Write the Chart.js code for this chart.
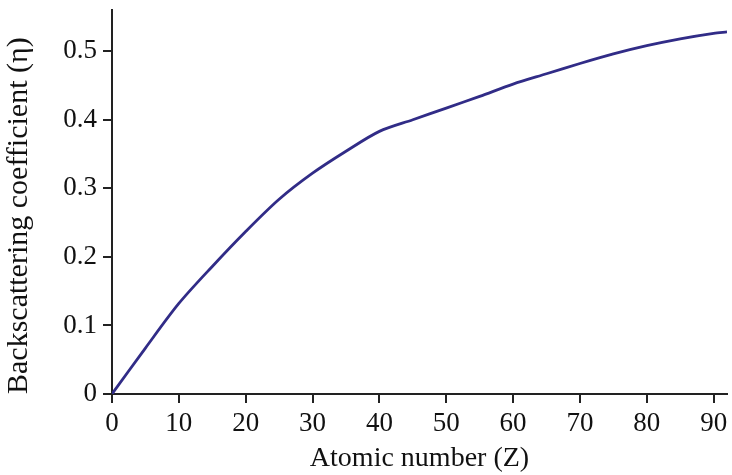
<!DOCTYPE html>
<html>
<head>
<meta charset="utf-8">
<script src="https://cdn.jsdelivr.net/npm/chart.js@4.4.1/dist/chart.umd.min.js"></script>
<style>
  body { margin: 0; background: #fff; }
  #wrap { width: 732px; height: 475px; }
</style>
</head>
<body>
<div id="wrap"><canvas id="bs-chart"></canvas></div>
<script>
// atomic number Z and backscattering coefficient
const atomicNumbers = [0, 5, 10, 15, 20, 25, 30, 35, 40, 45, 50, 55, 60, 65, 70, 75, 80, 85, 90, 92];
const backscatter = [0, 0.067, 0.132, 0.186, 0.237, 0.284, 0.322, 0.354, 0.383, 0.400, 0.417, 0.434, 0.452, 0.467, 0.482, 0.496, 0.508, 0.518, 0.526, 0.528];
const xTicks = [0, 10, 20, 30, 40, 50, 60, 70, 80, 90];
const yTicks = [0, 0.1, 0.2, 0.3, 0.4, 0.5];

const serif = "'Liberation Serif', 'Times New Roman', serif";
const ink = '#111';
const axisColor = '#222';

const points = atomicNumbers.map((z, i) => ({ x: z, y: backscatter[i] }));

const ctx = document.getElementById('bs-chart').getContext('2d');
new Chart(ctx, {
  type: 'line',
  data: {
    datasets: [{
      data: points,
      borderColor: '#312c87',
      borderWidth: 2.8,
      pointRadius: 0,
      tension: 0.3,
      fill: false
    }]
  },
  options: {
    responsive: true,
    maintainAspectRatio: false,
    animation: false,
    layout: { padding: { top: 10, right: 5, left: 0, bottom: 0 } },
    plugins: { legend: { display: false }, tooltip: { enabled: false } },
    scales: {
      x: {
        type: 'linear',
        min: 0,
        max: 92,
        afterBuildTicks: s => { s.ticks = xTicks.map(v => ({ value: v })); },
        afterFit: s => { s.height = 81; s.paddingLeft = 0; s.paddingRight = 0; },
        grid: { drawOnChartArea: false, drawTicks: true, tickLength: 9, color: axisColor, lineWidth: 2 },
        border: { display: true, color: axisColor, width: 2 },
        ticks: { color: ink, font: { family: serif, size: 27 }, padding: 5, maxRotation: 0 },
        title: { display: true, text: 'Atomic number (Z)', color: ink, font: { family: serif, size: 28 }, padding: 0 }
      },
      y: {
        type: 'linear',
        min: 0,
        max: 0.56,
        afterBuildTicks: s => { s.ticks = yTicks.map(v => ({ value: v })); },
        afterFit: s => { s.width = 112; s.paddingTop = 0; s.paddingBottom = 0; },
        grid: { drawOnChartArea: false, drawTicks: true, tickLength: 9, color: axisColor, lineWidth: 2 },
        border: { display: true, color: axisColor, width: 2 },
        ticks: {
          color: ink,
          font: { family: serif, size: 27 },
          padding: 6,
          callback: v => (v === 0 ? '0' : v.toFixed(1))
        },
        title: {
          display: true,
          text: 'Backscattering coefficient (η)',
          align: 'start',
          color: ink,
          font: { family: serif, size: 30 },
          padding: { top: 1, bottom: 0 }
        }
      }
    }
  }
});
</script>
</body>
</html>
